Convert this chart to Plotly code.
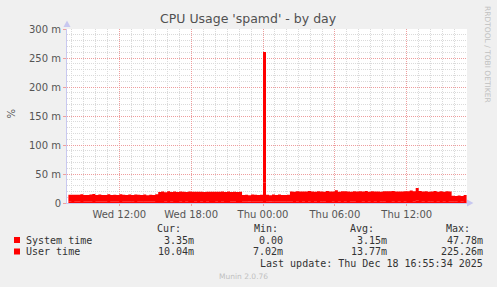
import datetime as dt
import plotly.graph_objects as go

# ---------------- data ----------------
start_time = "2025-12-17 07:45"
step_minutes = 15

system_time = [
    3.1, 3.3, 2.9, 3.2, 3.4, 3.0, 3.1, 3.2, 3.5, 3.0,
    3.2, 3.1, 2.9, 3.3, 3.1, 3.0, 3.2, 3.4, 3.1, 3.0,
    3.2, 3.1, 3.3, 3.0, 3.2, 3.1, 2.9, 3.2, 3.0, 3.3,
    # 15:15 - 22:00
    3.3, 3.5, 3.1, 3.4, 3.2, 3.6, 3.3, 3.1, 3.4, 3.2,
    3.5, 3.3, 3.0, 3.4, 3.2, 3.6, 3.1, 3.3, 3.5, 3.2,
    3.4, 3.1, 3.3, 3.5, 3.2, 3.0, 3.4, 3.3,
    # 22:15 - 23:45
    2.9, 3.1, 2.8, 3.0, 3.2, 2.9, 3.0,
    # 00:00 spike
    35.0,
    # 00:15 - 02:00
    3.0, 2.8, 3.1, 2.9, 3.2, 3.0, 2.9, 3.1,
    # 02:15 - 15:15
    3.2, 3.4, 3.1, 3.3, 3.0, 3.5, 3.2, 3.3, 3.1,
    3.4, 3.2, 3.0, 3.3, 3.5, 3.1, 3.6, 3.2, 3.3,
    3.1, 3.4, 3.2, 3.0, 3.3, 3.5, 3.2, 3.4, 3.1,
    3.3, 3.0, 3.4, 3.2, 3.1, 3.5, 3.3, 3.2, 3.4,
    3.2, 3.3, 3.1, 3.5, 3.4, 3.2, 3.9, 3.3, 3.1,
    3.4, 3.2, 3.0, 3.3, 3.1, 3.4, 3.2, 3.3, 3.1,
    # 15:30 - 16:45
    3.2, 3.0, 3.3, 3.1, 3.6, 3.35,
]

user_time = [
    11.2, 10.8, 11.5, 10.9, 11.8, 11.0, 10.6, 11.3, 12.1, 10.9,
    11.4, 10.7, 11.1, 11.9, 10.8, 11.2, 10.5, 11.6, 11.0, 10.9,
    11.3, 10.7, 11.5, 11.1, 10.8, 11.4, 10.6, 11.2, 11.0, 11.7,
    # 15:15 - 22:00
    15.8, 16.2, 15.5, 16.7, 15.9, 16.3, 15.6, 16.8, 16.0, 15.7,
    16.4, 15.9, 16.6, 15.8, 16.1, 15.4, 16.5, 16.0, 15.7, 16.3,
    15.9, 16.7, 15.6, 16.2, 15.8, 16.4, 15.5, 16.0,
    # 22:15 - 23:45
    10.9, 11.3, 10.7, 11.5, 11.0, 10.8, 11.2,
    # 00:00 spike
    225.26,
    # 00:15 - 02:00
    11.1, 10.7, 11.4, 10.9, 11.6, 11.0, 10.8, 11.3,
    # 02:15 - 15:15
    16.8, 16.2, 17.1, 16.5, 16.9, 16.3, 17.4, 16.6, 16.1,
    17.0, 16.7, 16.4, 17.2, 16.5, 16.9, 18.3, 16.2, 16.8,
    17.3, 16.6, 16.0, 17.1, 16.4, 16.9, 16.7, 17.5, 16.3,
    16.8, 17.0, 16.5, 16.2, 17.2, 16.6, 16.9, 17.4, 16.3,
    16.8, 16.5, 17.1, 16.7, 18.0, 16.9, 22.1, 17.2, 16.6,
    17.0, 16.4, 16.8, 17.3, 16.5, 16.9, 16.2, 17.0, 16.6,
    # 15:30 - 16:45
    9.3, 8.9, 9.5, 9.1, 10.4, 10.04,
]

x_range = ["2025-12-17 07:38", "2025-12-18 17:02"]
x_tick_vals = ["2025-12-17 12:00", "2025-12-17 18:00", "2025-12-18 00:00",
               "2025-12-18 06:00", "2025-12-18 12:00"]
x_tick_text = ["Wed 12:00", "Wed 18:00", "Thu 00:00", "Thu 06:00", "Thu 12:00"]
y_tick_vals = [0, 50, 100, 150, 200, 250, 300]
y_tick_text = ["0", "50 m", "100 m", "150 m", "200 m", "250 m", "300 m"]

series_names = ["System time", "User time"]
stat_cur = ["3.35m", "10.04m"]
stat_min = ["0.00", "7.02m"]
stat_avg = ["3.15m", "13.77m"]
stat_max = ["47.78m", "225.26m"]

title_text = "CPU Usage 'spamd' - by day"
last_update = "Last update: Thu Dec 18 16:55:34 2025"

# ---------------- figure ----------------
t0 = dt.datetime.strptime(start_time, "%Y-%m-%d %H:%M")
times = [t0 + dt.timedelta(minutes=step_minutes * i) for i in range(len(user_time))]

W, H = 497, 287
L, R, T, B = 67, 467, 29, 203  # plot area pixel box


def px(x):
    return (x - L) / (R - L)


def py(y):
    return (B - y) / (B - T)


fig = go.Figure()
for name, vals in zip(series_names, [system_time, user_time]):
    fig.add_trace(go.Scatter(
        x=times, y=vals, name=name, mode="lines", stackgroup="cpu",
        line=dict(width=0, shape="hv", color="#FF0000"),
        fillcolor="#FF0000", showlegend=False, hoverinfo="skip",
    ))

grid_major = "rgba(240,150,150,0.9)"
grid_minor = "#DADADA"
axis_col = "#C8C8F0"
txt = "#555555"
mono = "DejaVu Sans Mono"
sans = "DejaVu Sans"

fig.update_xaxes(
    type="date", range=x_range, tickvals=x_tick_vals, ticktext=x_tick_text,
    showgrid=True, gridcolor=grid_major, griddash="1px,1px", gridwidth=1,
    minor=dict(dtick=3600000, showgrid=True, gridcolor=grid_minor,
               griddash="1px,1px", ticks=""),
    showline=True, linecolor=axis_col, linewidth=1,
    ticks="outside", ticklen=2, tickcolor=grid_major,
    tickfont=dict(family=sans, size=10, color=txt), zeroline=False,
)
fig.update_yaxes(
    range=[0, 300], tickvals=y_tick_vals, ticktext=y_tick_text,
    showgrid=True, gridcolor=grid_major, griddash="1px,1px", gridwidth=1,
    minor=dict(dtick=10, showgrid=True, gridcolor=grid_minor,
               griddash="1px,1px", ticks=""),
    showline=True, linecolor=axis_col, linewidth=1,
    ticks="outside", ticklen=3, tickcolor=grid_major,
    tickfont=dict(family=sans, size=10, color=txt), zeroline=False,
)

anns = []


def ann(x, y, text, xa="left", size=10, color="#333333", family=mono, angle=0):
    anns.append(dict(x=px(x), y=py(y), xref="paper", yref="paper", text=text,
                     showarrow=False, xanchor=xa, yanchor="middle",
                     textangle=angle, borderpad=0,
                     font=dict(family=family, size=size, color=color)))


ann(248, 19, title_text, xa="center", size=12.5, color="#505050", family=sans)
ann(10.5, 114, "%", xa="center", size=10, color=txt, family=sans, angle=-90)
ann(488, 54, "RRDTOOL / TOBI OETIKER", xa="center", size=7.5, color="#C0C0C0",
    family=sans, angle=90)
ann(243, 276, "Munin 2.0.76", xa="center", size=7.5, color="#C0C0C0", family=sans)

ann(182, 228, "Cur:", xa="right")
ann(279, 228, "Min:", xa="right")
ann(375, 228, "Avg:", xa="right")
ann(471, 228, "Max:", xa="right")
rows_y = [240, 251.5]
for i, name in enumerate(series_names):
    ann(25, rows_y[i], name)
    ann(195, rows_y[i], stat_cur[i], xa="right")
    ann(284, rows_y[i], stat_min[i], xa="right")
    ann(388, rows_y[i], stat_avg[i], xa="right")
    ann(484, rows_y[i], stat_max[i], xa="right")
ann(484, 263.5, last_update, xa="right")

shapes = []
for y in rows_y:
    shapes.append(dict(type="rect", xref="paper", yref="paper",
                       x0=px(14), x1=px(20), y0=py(y - 3), y1=py(y + 3),
                       fillcolor="#FF0000", line=dict(width=0)))
# axis arrows
shapes.append(dict(type="path", xref="paper", yref="paper",
                   path=f"M {px(63.5)} {py(27)} L {px(67)} {py(20.5)} L {px(70.5)} {py(27)} Z",
                   fillcolor=axis_col, line=dict(width=0)))
shapes.append(dict(type="path", xref="paper", yref="paper",
                   path=f"M {px(467)} {py(199.5)} L {px(473.5)} {py(203)} L {px(467)} {py(206.5)} Z",
                   fillcolor=axis_col, line=dict(width=0)))

fig.update_layout(
    width=W, height=H, margin=dict(l=L, r=W - R, t=T, b=H - B),
    paper_bgcolor="#F0F0F0", plot_bgcolor="#FFFFFF",
    annotations=anns, shapes=shapes, showlegend=False,
)

fig.write_html("out.html")
